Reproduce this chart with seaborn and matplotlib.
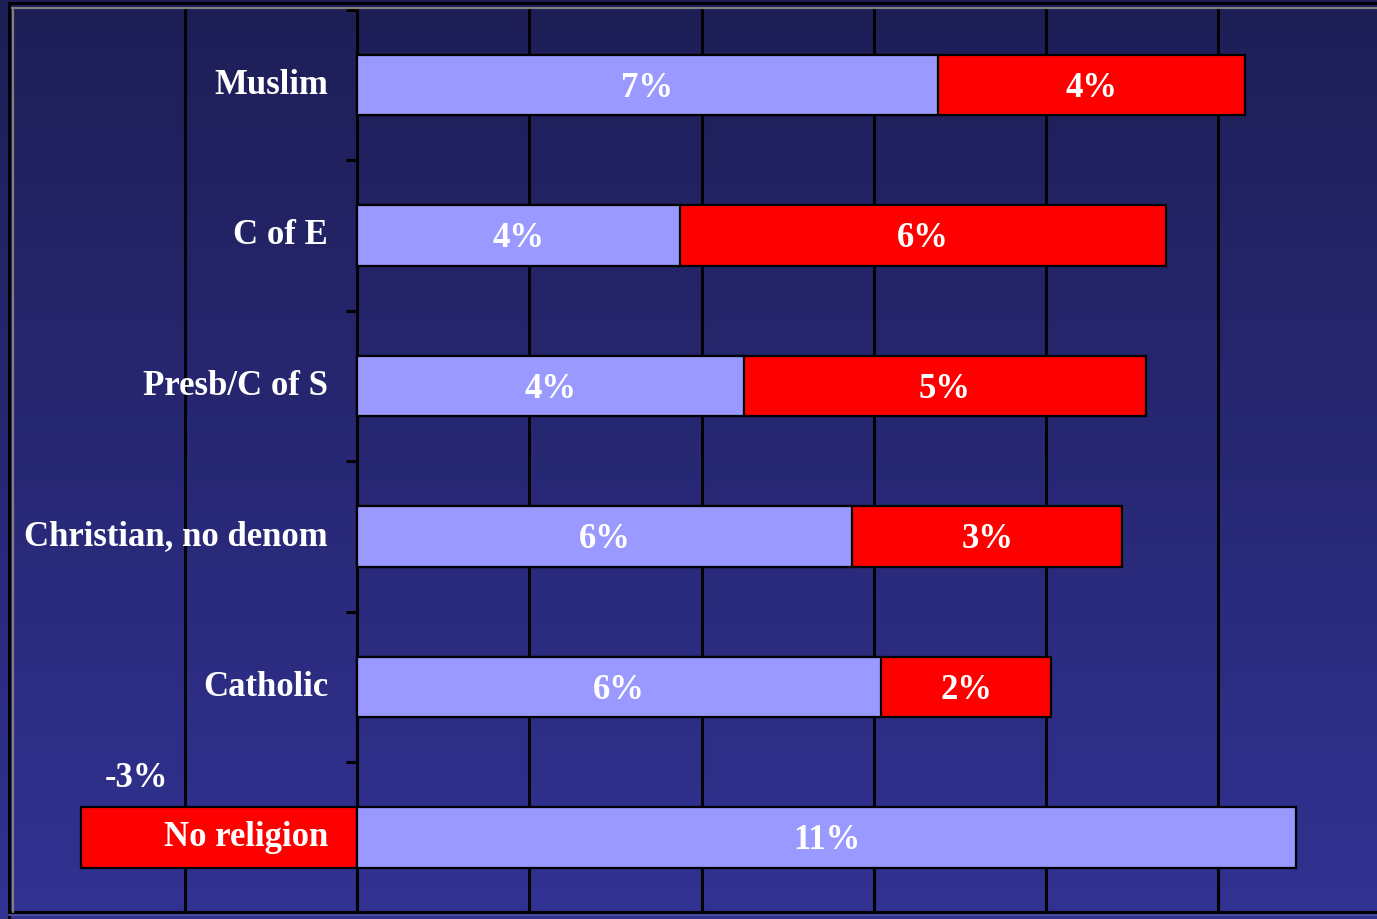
import numpy as np
import pandas as pd
import matplotlib
matplotlib.use('Agg')
import matplotlib.pyplot as plt
import matplotlib.transforms as mtransforms
from matplotlib.lines import Line2D
from matplotlib.ticker import FixedLocator
import seaborn as sns

categories = ['Muslim', 'C of E', 'Presb/C of S', 'Christian, no denom', 'Catholic', 'No religion']
light_values = [6.74, 3.75, 4.49, 5.75, 6.08, 10.9]
red_values = [3.57, 5.64, 4.67, 3.13, 1.98, -3.2]

LIGHT = '#9999FF'
RED = '#FF0000'
FONT = 'Liberation Serif'

df = pd.DataFrame({'category': categories, 'light': light_values, 'red': red_values})
# red segment sits after the light one, or on the left of zero when negative
df['red_end'] = np.where(df['red'] < 0, df['red'], df['light'] + df['red'])

sns.set_style('white')
plt.rcParams['font.family'] = [FONT, 'DejaVu Serif']

W, H = 1377, 919
fig = plt.figure(figsize=(W / 100, H / 100), dpi=100)

# gradient background over the whole figure
bg = fig.add_axes([0, 0, 1, 1], zorder=-10)
top_c = np.array([30, 30, 86]) / 255
bot_c = np.array([49, 50, 146]) / 255
t = np.linspace(0, 1, 256)[:, None]
grad = top_c[None, :] * (1 - t) + bot_c[None, :] * t
bg.imshow(grad[:, None, :], aspect='auto', extent=[0, 1, 0, 1])
bg.set_axis_off()

ax = fig.add_axes([12 / W, (H - 912) / H, (W - 12) / W, (912 - 8) / H])
ax.patch.set_alpha(0)

sns.barplot(data=df, x='red_end', y='category', color=RED, saturation=1,
            edgecolor='black', linewidth=1.6, width=0.4, ax=ax, zorder=2)
sns.barplot(data=df, x='light', y='category', color=LIGHT, saturation=1,
            edgecolor='black', linewidth=1.6, width=0.4, ax=ax, zorder=3)

ax.set_xlim(-4.005, 11.84)
ax.set_ylim(5.495, -0.512)
ax.set_xlabel('')
ax.set_ylabel('')

ax.set_xticks(np.arange(-2, 12, 2))
ax.set_axisbelow(True)
ax.grid(axis='x', color='black', linewidth=2.2)
ax.tick_params(axis='x', length=0, labelbottom=False)

ax.spines['left'].set_position(('data', 0))
ax.spines['left'].set_color('black')
ax.spines['left'].set_linewidth(2.2)
ax.spines['right'].set_visible(False)
ax.spines['top'].set_color('#7f7f7f')
ax.spines['top'].set_linewidth(1.6)
ax.spines['bottom'].set_color('black')
ax.spines['bottom'].set_linewidth(2.2)
ax.yaxis.set_minor_locator(FixedLocator(np.arange(len(categories) + 1) - 0.5))
ax.tick_params(axis='y', which='minor', left=True, length=8, width=2.2, color='black', direction='out')
ax.tick_params(axis='y', which='major', length=0, labelleft=False)

txt = dict(color='white', fontsize=25, fontweight='bold', family=[FONT, 'DejaVu Serif'])

# category labels right aligned just left of the zero line
lab_tr = mtransforms.offset_copy(ax.transData, fig=fig, x=-29, y=0, units='dots')
for i, cat in enumerate(categories):
    ax.text(0, i, cat, ha='right', va='center', transform=lab_tr, zorder=5, **txt)

# percentage labels
for i, (lv, rv) in enumerate(zip(light_values, red_values)):
    ax.text(lv / 2, i + 0.02, f'{lv:.0f}%', ha='center', va='center', zorder=5, **txt)
    if rv >= 0:
        ax.text(lv + rv / 2, i + 0.02, f'{rv:.0f}%', ha='center', va='center', zorder=5, **txt)
    else:
        ax.text(rv * 0.8, i - 0.39, f'{rv:.0f}%', ha='center', va='center', zorder=5, **txt)

# slide frame
fig.add_artist(Line2D([9 / W, 9 / W], [0, 1 - 3 / H], color='black', linewidth=2.2, transform=fig.transFigure))
fig.add_artist(Line2D([9 / W, 1], [1 - 3 / H, 1 - 3 / H], color='black', linewidth=2.2, transform=fig.transFigure))
fig.add_artist(Line2D([12.5 / W, 12.5 / W], [(H - 912) / H, 1 - 8 / H], color='#7f7f7f', linewidth=1.6, transform=fig.transFigure))
fig.add_artist(Line2D([9 / W, 1], [4 / H, 4 / H], color='#4a4a9a', linewidth=1.5, transform=fig.transFigure))

fig.savefig('out.png', dpi=100)
